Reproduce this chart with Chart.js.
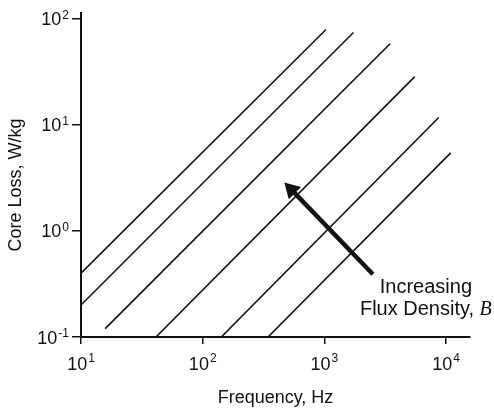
<!DOCTYPE html>
<html>
<head>
<meta charset="utf-8">
<script src="https://cdn.jsdelivr.net/npm/chart.js@4"></script>
<style>
  body { margin: 0; background: #fff; }
  canvas { display: block; }
</style>
</head>
<body>
<canvas id="lossChart" width="494" height="409"></canvas>
<script>
// curves: straight lines on log-log, one per flux density (low -> high)
const curveFreqStart = [344, 142, 41.3, 15.8, 10, 10];
const curveLossStart = [0.1, 0.1, 0.1, 0.12, 0.2, 0.4];
const curveFreqEnd = [10900, 8690, 5520, 3460, 1730, 1030];
const curveLossEnd = [5.44, 11.7, 28.4, 58, 74, 79];

const xTicks = [10, 100, 1000, 10000];
const yTicks = [0.1, 1, 10, 100];

// arrow from tail to head
const arrowFreq = [2500, 535];
const arrowLoss = [0.39, 2.45];
const arrowLabel = ['Increasing', 'Flux Density, ', 'B'];

const sans = "'Liberation Sans', Arial, sans-serif";
const ink = '#111';

const datasets = curveFreqStart.map(function(f, i) {
    return {
        data: [{x: f, y: curveLossStart[i]}, {x: curveFreqEnd[i], y: curveLossEnd[i]}],
        showLine: true,
        borderColor: ink,
        borderWidth: 1.6,
        pointRadius: 0
    };
});
datasets.push({
    data: [{x: arrowFreq[0], y: arrowLoss[0]}, {x: arrowFreq[1], y: arrowLoss[1]}],
    showLine: true,
    borderColor: ink,
    borderWidth: 4.5,
    pointStyle: 'triangle',
    pointRotation: -45,
    pointRadius: [0, 10],
    backgroundColor: ink,
    pointBorderWidth: 0
});

function powerLabel(v) {
    return String(Math.round(Math.log10(v)));
}

const powerTicks = {
    id: 'powerTicks',
    afterDraw: function(chart) {
        const ctx = chart.ctx;
        const xs = chart.scales.x;
        const ys = chart.scales.y;
        ctx.save();
        ctx.fillStyle = ink;
        ctx.textBaseline = 'alphabetic';
        ctx.textAlign = 'left';
        const main = '18px ' + sans;
        const sup = '12px ' + sans;

        xTicks.forEach(function(v) {
            const px = xs.getPixelForValue(v);
            ctx.font = main;
            const w1 = ctx.measureText('10').width;
            ctx.font = sup;
            const w2 = ctx.measureText(powerLabel(v)).width;
            const left = px - (w1 + w2 + 1) / 2;
            ctx.font = main;
            ctx.fillText('10', left, 370);
            ctx.font = sup;
            ctx.fillText(powerLabel(v), left + w1 + 1, 362);
        });

        yTicks.forEach(function(v) {
            const py = ys.getPixelForValue(v);
            ctx.font = sup;
            const w2 = ctx.measureText(powerLabel(v)).width;
            ctx.font = main;
            const w1 = ctx.measureText('10').width;
            const right = xs.left - 12;
            ctx.fillText('10', right - w2 - 1 - w1, py + 6.5);
            ctx.font = sup;
            ctx.fillText(powerLabel(v), right - w2, py);
        });

        // y axis title, a little below the middle of the axis
        ctx.save();
        ctx.translate(16, (ys.top + ys.bottom) / 2 + 10);
        ctx.rotate(-Math.PI / 2);
        ctx.textAlign = 'center';
        ctx.textBaseline = 'middle';
        ctx.font = '18px ' + sans;
        ctx.fillText('Core Loss, W/kg', 0, 0);
        ctx.restore();

        // label at the arrow tail
        const tx = xs.getPixelForValue(arrowFreq[0]);
        const ty = ys.getPixelForValue(arrowLoss[0]);
        const cx = tx + 53;
        ctx.font = '20px ' + sans;
        ctx.textAlign = 'center';
        ctx.fillText(arrowLabel[0], cx, ty + 19);
        ctx.textAlign = 'left';
        const wa = ctx.measureText(arrowLabel[1]).width;
        ctx.font = "italic 20px 'Liberation Serif', 'Times New Roman', serif";
        const wb = ctx.measureText(arrowLabel[2]).width;
        const start = cx - (wa + wb) / 2;
        ctx.font = '20px ' + sans;
        ctx.fillText(arrowLabel[1], start, ty + 41);
        ctx.font = "italic 20px 'Liberation Serif', 'Times New Roman', serif";
        ctx.fillText(arrowLabel[2], start + wa, ty + 41);
        ctx.restore();
    }
};

new Chart(document.getElementById('lossChart').getContext('2d'), {
    type: 'scatter',
    data: { datasets: datasets },
    options: {
        responsive: false,
        animation: false,
        layout: { padding: { top: 13, right: 24, left: 0, bottom: 0 } },
        plugins: {
            legend: { display: false },
            tooltip: { enabled: false }
        },
        scales: {
            x: {
                type: 'logarithmic',
                position: 'bottom',
                min: 10,
                max: 15700,
                border: { color: ink, width: 2 },
                grid: { drawOnChartArea: false, drawTicks: true, tickLength: 7, color: ink, lineWidth: 1.5 },
                ticks: { display: false },
                afterBuildTicks: function(s) { s.ticks = xTicks.map(function(v) { return {value: v}; }); },
                afterFit: function(s) { s.height = 72; },
                title: {
                    display: true,
                    text: 'Frequency, Hz',
                    color: ink,
                    font: { family: sans, size: 18 },
                    padding: { top: 0, bottom: 0 }
                }
            },
            y: {
                type: 'logarithmic',
                position: 'left',
                min: 0.1,
                max: 113,
                border: { color: ink, width: 2 },
                grid: { drawOnChartArea: false, drawTicks: true, tickLength: 9, color: ink, lineWidth: 1.5 },
                ticks: { display: false },
                afterBuildTicks: function(s) { s.ticks = yTicks.map(function(v) { return {value: v}; }); },
                afterFit: function(s) { s.width = 81; }
            }
        }
    },
    plugins: [powerTicks]
});
</script>
</body>
</html>
